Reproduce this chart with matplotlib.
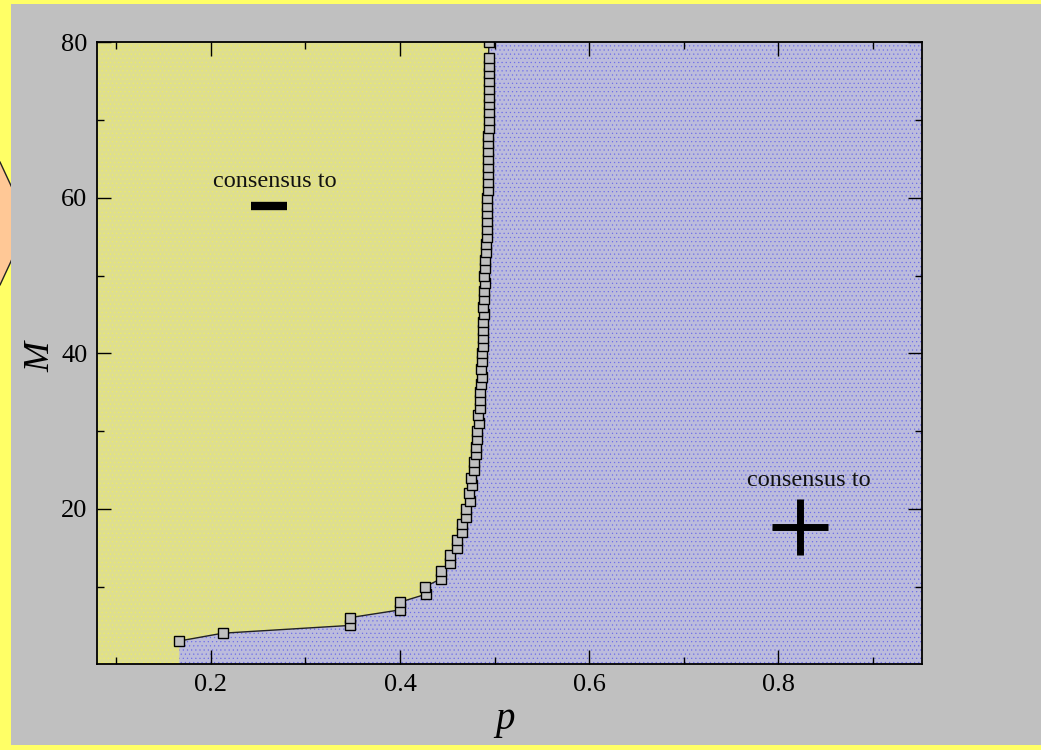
import numpy as np
import matplotlib.pyplot as plt
from matplotlib.patches import Rectangle, Polygon

# critical line p_c(M)
M_vals = [3, 4, 5, 6, 7, 8, 9, 10, 11, 12, 13, 14, 15, 16, 17, 18, 19, 20,
          21, 22, 23, 24, 25, 26, 27, 28, 29, 30, 31, 32, 33, 34, 35, 36, 37, 38,
          39, 40, 41, 42, 43, 44, 45, 46, 47, 48, 49, 50, 51, 52, 53, 54, 55, 56,
          57, 58, 59, 60, 61, 62, 63, 64, 65, 66, 67, 68, 69, 70, 71, 72, 73, 74,
          75, 76, 77, 78, 80]
p_vals = [0.1667, 0.2125, 0.347, 0.347, 0.400, 0.400, 0.427, 0.4265, 0.4435, 0.443,
          0.453, 0.453, 0.4604, 0.4597, 0.466, 0.4656, 0.470, 0.4694, 0.4737, 0.473,
          0.4761, 0.4755, 0.4783, 0.478, 0.4805, 0.480, 0.4817, 0.4814, 0.4831, 0.4828,
          0.4842, 0.4842, 0.485, 0.4853, 0.4866, 0.486, 0.487, 0.487, 0.4877, 0.4877,
          0.488, 0.4877, 0.4884, 0.4881, 0.4891, 0.4888, 0.4895, 0.4891, 0.4898, 0.4898,
          0.4908, 0.4911, 0.4914, 0.4916, 0.4916, 0.4916, 0.4921, 0.4916, 0.4925, 0.4925,
          0.4928, 0.4928, 0.4928, 0.4928, 0.4928, 0.4928, 0.4935, 0.4935, 0.4935, 0.4935,
          0.4935, 0.4935, 0.4935, 0.4935, 0.4935, 0.4935, 0.4939]

x_ticks = [0.2, 0.4, 0.6, 0.8]
x_minor = [0.1, 0.3, 0.5, 0.7, 0.9]
y_ticks = [20, 40, 60, 80]
y_minor = [10, 30, 50, 70]
region_text = "consensus to"

xmin, xmax = 0.08, 0.952
ymin, ymax = 0, 80

plt.rcParams['hatch.linewidth'] = 0.35

W, H = 1041, 750
fig = plt.figure(figsize=(W / 100, H / 100), dpi=100)
fig.patch.set_facecolor('#FFFF66')

# peach shape peeking out on the left, under the gray panel
peach = Polygon([(-20 / W, 1 - 140 / H), (0 / W, 1 - 162 / H), (10.7 / W, 1 - 185 / H),
                 (20 / W, 1 - 205 / H), (20 / W, 1 - 240 / H), (10.7 / W, 1 - 262 / H),
                 (0 / W, 1 - 285 / H), (-20 / W, 1 - 300 / H)],
                closed=True, transform=fig.transFigure, facecolor='#FFC896',
                edgecolor='#222222', lw=1.0, zorder=0)
fig.patches.append(peach)
panel = Rectangle((10.7 / W, 5 / H), 1 - 10.7 / W, 1 - 5 / H - 3.5 / H,
                  transform=fig.transFigure, facecolor='#C0C0C0', edgecolor='none',
                  zorder=1)
fig.patches.append(panel)

ax = fig.add_axes([97.3 / W, 1 - 664.3 / H, (922.3 - 97.3) / W, (664.3 - 42.3) / H])
ax.set_zorder(2)
ax.set_facecolor('#DEDE90')
ax.add_patch(Rectangle((0, 0), 1, 1, transform=ax.transAxes, facecolor='none',
                       edgecolor='#EEEE60', hatch='....', lw=0, zorder=0))

# region to the right of the critical line
p_arr = np.array(p_vals)
M_arr = np.array(M_vals, dtype=float)
poly_x = np.concatenate([[p_arr[0]], p_arr, [xmax, xmax]])
poly_y = np.concatenate([[ymin], M_arr, [ymax, ymin]])
ax.fill(poly_x, poly_y, facecolor='#BCBCDC', edgecolor='none', zorder=1)
ax.fill(poly_x, poly_y, facecolor='none', edgecolor='#6A6AEA', hatch='....', lw=0,
        zorder=1)

ax.plot(p_vals, M_vals, color='#222222', lw=1.0, zorder=3)
ax.plot(p_vals, M_vals, ls='none', marker='s', ms=7, mfc='#C0C0C0', mec='black',
        mew=1.0, zorder=4)

serif = ['Liberation Serif', 'DejaVu Serif']
ax.text(0.2678, 61.4, region_text, ha='center', va='baseline', fontsize=17.5,
        family=serif, color='#111111', zorder=5)
ax.plot([0.261], [58.95], marker='_', ms=26, mew=6, color='black', zorder=5)
ax.text(0.8316, 22.9, region_text, ha='center', va='baseline', fontsize=17.5,
        family=serif, color='#111111', zorder=5)
ax.plot([0.8228], [17.66], marker='+', ms=41, mew=5, color='black', zorder=5)

ax.set_xlim(xmin, xmax)
ax.set_ylim(ymin, ymax)
ax.set_xticks(x_ticks)
ax.set_xticks(x_minor, minor=True)
ax.set_yticks(y_ticks)
ax.set_yticks(y_minor, minor=True)
ax.set_xticklabels([f'{v:.1f}' for v in x_ticks])
ax.set_yticklabels([str(v) for v in y_ticks])
ax.tick_params(which='both', direction='in', top=True, right=True, width=1.0,
               color='black')
ax.tick_params(which='major', length=10, labelsize=19, pad=7)
ax.tick_params(which='minor', length=5)
for lab in ax.get_xticklabels() + ax.get_yticklabels():
    lab.set_family(serif)
for sp in ax.spines.values():
    sp.set_linewidth(1.3)
    sp.set_zorder(6)

ax.set_xlabel('p', fontsize=28, family=serif, style='italic', va='center')
ax.set_ylabel('M', fontsize=26, family=serif, style='italic', rotation=90,
              ha='center', va='center')
ax.xaxis.set_label_coords(0.494, -0.088)
ax.yaxis.set_label_coords(-0.068, 0.494)

fig.savefig('out.png', dpi=100, facecolor=fig.get_facecolor())
